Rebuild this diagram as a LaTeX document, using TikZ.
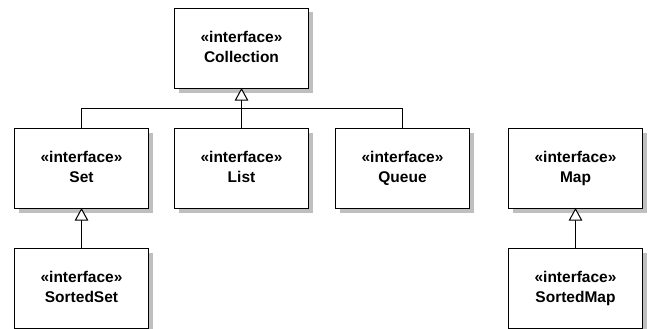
\documentclass[tikz,border=0pt]{standalone}
\usepackage{fontspec}
\setmainfont{Liberation Sans}
\begin{document}
\begin{tikzpicture}[x=1pt,y=-1pt,
  iface/.style={draw=black,line width=1pt,fill=white,minimum width=134pt,minimum height=80pt,
    inner sep=0pt,align=center,font=\bfseries\fontsize{15.5}{20}\selectfont},
  shadowfill/.style={fill=black!25,draw=none},
  conn/.style={draw=black,line width=1pt},
  gen/.style={draw=black,line width=1pt,fill=white,line join=miter}
]
\useasboundingbox (0,0) rectangle (648,329);
% shadows
\foreach \cx/\cy in {241.5/48.5,81.5/168.5,241.5/168.5,402.5/168.5,575.5/168.5,81.5/288.5,575.5/288.5}{
  \path[shadowfill] (\cx-67+4,\cy-40+4) rectangle (\cx+67+4,\cy+40+4);
}
\node[iface] (coll) at (241.5,48.5) {\strut«interface»\\Collection\strut};
\node[iface] (set) at (81.5,168.5) {\strut«interface»\\Set\strut};
\node[iface] (list) at (241.5,168.5) {\strut«interface»\\List\strut};
\node[iface] (queue) at (402.5,168.5) {\strut«interface»\\Queue\strut};
\node[iface] (map) at (575.5,168.5) {\strut«interface»\\Map\strut};
\node[iface] (sset) at (81.5,288.5) {\strut«interface»\\SortedSet\strut};
\node[iface] (smap) at (575.5,288.5) {\strut«interface»\\SortedMap\strut};
% generalization triangles
\coordinate (tc) at ([yshift=-11pt]coll.south);
\coordinate (ts) at ([yshift=-11pt]set.south);
\coordinate (tm) at ([yshift=-11pt]map.south);
\coordinate (bar) at (241.5,108.5);
\draw[conn] (tc) -- (bar);
\draw[conn] (set.north) |- (bar) -| (queue.north);
\draw[conn] (bar) -- (list.north);
\draw[conn] (ts) -- (sset.north);
\draw[conn] (tm) -- (smap.north);
\foreach \n/\t in {coll/tc,set/ts,map/tm}{
  \draw[gen] (\n.south) -- ([xshift=-6pt]\t) -- ([xshift=6pt]\t) -- cycle;
}
\end{tikzpicture}
\end{document}
